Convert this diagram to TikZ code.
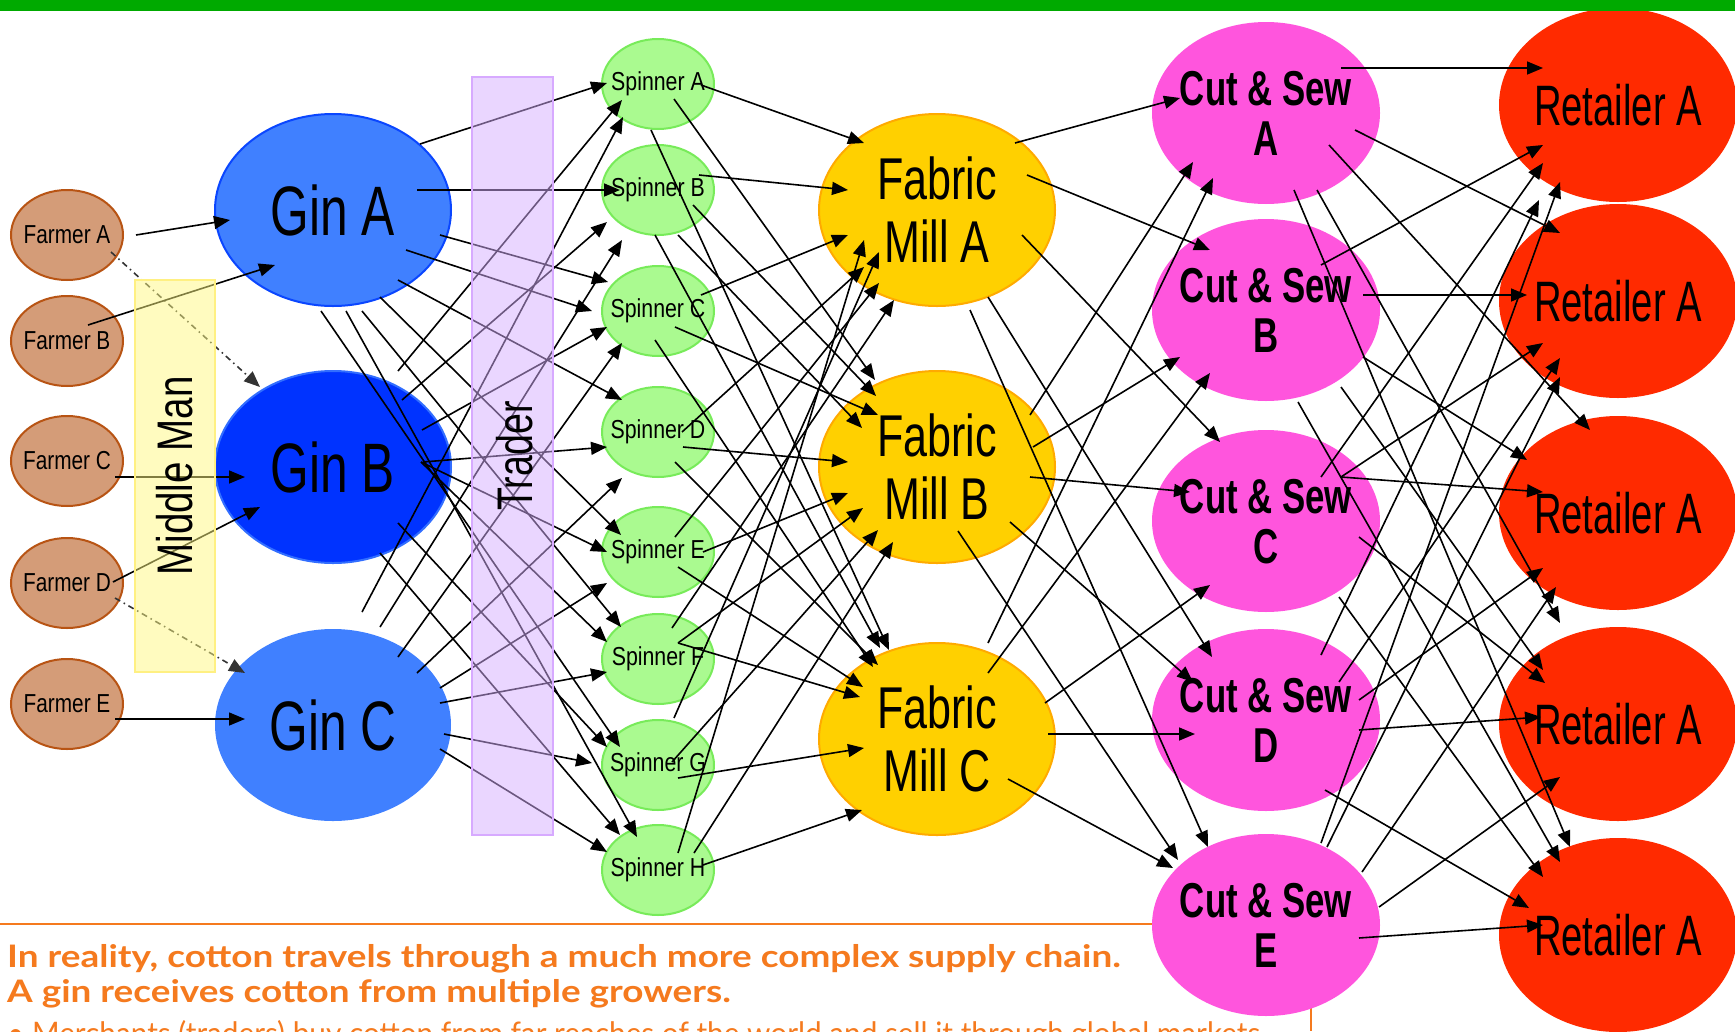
\documentclass[tikz,border=0pt]{standalone}
\usepackage{fontspec}
\usepackage{graphicx}
\setmainfont{Liberation Sans}
\newfontfamily\botfont{Lato}
\usetikzlibrary{shapes.geometric,arrows.meta,calc}

\definecolor{topgreen}{RGB}{0,170,0}
\definecolor{farmfill}{RGB}{212,156,120}
\definecolor{farmline}{RGB}{184,84,20}
\definecolor{ginfill}{RGB}{64,128,255}
\definecolor{ginline}{RGB}{10,70,255}
\definecolor{ginBfill}{RGB}{0,51,255}
\definecolor{ginBline}{RGB}{50,110,255}
\definecolor{mmfill}{RGB}{255,249,129}
\definecolor{mmline}{RGB}{255,240,130}
\definecolor{trfill}{RGB}{215,175,255}
\definecolor{trline}{RGB}{215,170,255}
\definecolor{spinfill}{RGB}{170,250,144}
\definecolor{spinline}{RGB}{120,235,90}
\definecolor{millfill}{RGB}{255,208,0}
\definecolor{millline}{RGB}{255,170,0}
\definecolor{csfill}{RGB}{255,85,221}
\definecolor{retfill}{RGB}{255,42,0}
\definecolor{orangetxt}{RGB}{245,122,30}

\newcommand\sq[3]{{\fontsize{#1}{#1}\selectfont\scalebox{#2}[1]{#3}}}
\newcommand\sqq[5]{{\fontsize{#1}{#2}\selectfont\scalebox{#3}[1]{\begin{tabular}{@{}c@{}}#4\\#5\end{tabular}}}}
\newcommand\link[6]{\draw[arr] ($(#1)+(#2,#3)$) -- ($(#4)+(#5,#6)$);}
\newcommand\linkdd[6]{\draw[arr,dd] ($(#1)+(#2,#3)$) -- ($(#4)+(#5,#6)$);}

\begin{document}
\begin{tikzpicture}[x=1pt,y=-1pt,
  arr/.style={line width=1.6pt,draw=black,-{Triangle[length=16pt,width=13pt]}},
  dd/.style={draw=black!80,dash pattern=on 6pt off 4pt on 1.5pt off 4pt},
  farmer/.style={ellipse,minimum width=112pt,minimum height=90pt,inner sep=0pt,fill=farmfill,draw=farmline,line width=2pt},
  gin/.style={ellipse,minimum width=236pt,minimum height=192pt,inner sep=0pt,fill=ginfill},
  spin/.style={ellipse,minimum width=112pt,minimum height=90pt,inner sep=0pt,fill=spinfill,draw=spinline,line width=2pt},
  mill/.style={ellipse,minimum width=236pt,minimum height=192pt,inner sep=0pt,fill=millfill,draw=millline,line width=2pt},
  cs/.style={ellipse,minimum width=228pt,minimum height=182pt,inner sep=0pt,fill=csfill},
  ret/.style={ellipse,minimum width=238pt,minimum height=194pt,inner sep=0pt,fill=retfill},
  txt/.style={inner sep=0pt,text=black},
  box/.style={rectangle,inner sep=0pt,line width=2pt},
  bottxt/.style={anchor=base west,inner sep=0pt,text=orangetxt}]

\useasboundingbox (0,0) rectangle (1735,1031);
\clip (0,0) rectangle (1735,1031);
\fill[white] (0,0) rectangle (1735,1031);

% bottom frame lines
\draw[orangetxt,line width=2pt] (0,924) -- (1311,924) -- (1311,1031);

% farmers
\node[farmer] (F1) at (67,235) {};
\node[farmer] (F2) at (67,341) {};
\node[farmer] (F3) at (67,461) {};
\node[farmer] (F4) at (67,583) {};
\node[farmer] (F5) at (67,704) {};
% gins
\node[gin,draw=ginline,line width=2pt] (GA) at (333,210) {};
\node[gin,fill=ginBfill,draw=ginBline,line width=2pt] (GB) at (333,467) {};
\node[gin] (GC) at (333,725) {};
% spinners
\node[spin] (SA) at (658,84) {};
\node[spin] (SB) at (658,190) {};
\node[spin] (SC) at (658,311) {};
\node[spin] (SD) at (658,432) {};
\node[spin] (SE) at (658,552) {};
\node[spin] (SF) at (658,659) {};
\node[spin] (SG) at (658,765) {};
\node[spin] (SH) at (658,870) {};
% mills
\node[mill] (MA) at (937,210) {};
\node[mill] (MB) at (937,467) {};
\node[mill] (MC) at (937,739) {};
% cut & sew
\node[cs] (CA) at (1266,113) {};
\node[cs] (CB) at (1266,310) {};
\node[cs] (CC) at (1266,521) {};
\node[cs] (CD) at (1266,720) {};
\node[cs] (CE) at (1266,925) {};
% retailers
\node[ret] (RA) at (1618,105) {};
\node[ret] (RB) at (1618,301) {};
\node[ret] (RC) at (1618,513) {};
\node[ret] (RD) at (1618,724) {};
\node[ret] (RE) at (1618,935) {};

% labels
\node[txt] (F1t) at (F1) {\sq{26}{0.8}{Farmer A}};
\node[txt] (F2t) at (F2) {\sq{26}{0.8}{Farmer B}};
\node[txt] (F3t) at (F3) {\sq{26}{0.8}{Farmer C}};
\node[txt] (F4t) at (F4) {\sq{26}{0.8}{Farmer D}};
\node[txt] (F5t) at (F5) {\sq{26}{0.8}{Farmer E}};
\node[txt] (GAt) at (GA) {\sq{70}{0.71}{Gin A}};
\node[txt] (GBt) at (GB) {\sq{70}{0.71}{Gin B}};
\node[txt] (GCt) at (GC) {\sq{70}{0.71}{Gin C}};
\node[txt] (SAt) at (SA) {\sq{26}{0.82}{Spinner A}};
\node[txt] (SBt) at (SB) {\sq{26}{0.82}{Spinner B}};
\node[txt] (SCt) at (SC) {\sq{26}{0.82}{Spinner C}};
\node[txt] (SDt) at (SD) {\sq{26}{0.82}{Spinner D}};
\node[txt] (SEt) at (SE) {\sq{26}{0.82}{Spinner E}};
\node[txt] (SFt) at (SF) {\sq{26}{0.82}{Spinner F}};
\node[txt] (SGt) at (SG) {\sq{26}{0.82}{Spinner G}};
\node[txt] (SHt) at (SH) {\sq{26}{0.82}{Spinner H}};
\node[txt,yshift=-8pt] (MAt) at (MA) {\sqq{59}{63}{0.73}{Fabric}{Mill A}};
\node[txt,yshift=-8pt] (MBt) at (MB) {\sqq{59}{63}{0.73}{Fabric}{Mill B}};
\node[txt,yshift=-8pt] (MCt) at (MC) {\sqq{59}{63}{0.73}{Fabric}{Mill C}};
\node[txt,yshift=-7pt,font=\bfseries] (CAt) at (CA) {\sqq{49}{50}{0.71}{Cut \& Sew}{A}};
\node[txt,yshift=-7pt,font=\bfseries] (CBt) at (CB) {\sqq{49}{50}{0.71}{Cut \& Sew}{B}};
\node[txt,yshift=-7pt,font=\bfseries] (CCt) at (CC) {\sqq{49}{50}{0.71}{Cut \& Sew}{C}};
\node[txt,yshift=-7pt,font=\bfseries] (CDt) at (CD) {\sqq{49}{50}{0.71}{Cut \& Sew}{D}};
\node[txt,yshift=-7pt,font=\bfseries] (CEt) at (CE) {\sqq{49}{50}{0.71}{Cut \& Sew}{E}};
\node[txt] (RAt) at (RA) {\sq{57}{0.67}{Retailer A}};
\node[txt] (RBt) at (RB) {\sq{57}{0.67}{Retailer A}};
\node[txt] (RCt) at (RC) {\sq{57}{0.67}{Retailer A}};
\node[txt] (RDt) at (RD) {\sq{57}{0.67}{Retailer A}};
\node[txt] (REt) at (RE) {\sq{57}{0.67}{Retailer A}};

% farmers -> gins
\link{F1}{69}{0}{GA}{-103}{10}
\linkdd{F1}{44}{17}{GB}{-73}{-80}
\link{F2}{21}{-16}{GA}{-58}{55}
\link{F3}{48}{16}{GB}{-88}{10}
\link{F4}{46}{-1}{GB}{-73}{40}
\linkdd{F4}{48}{15}{GC}{-88}{-52}
\link{F5}{48}{15}{GC}{-88}{-6}

% gins -> spinners
\link{GA}{87}{-66}{SA}{-51}{-1}
\link{GA}{84}{-20}{SB}{-38}{0}
\link{GA}{107}{25}{SC}{-50}{-29}
\link{GA}{73}{40}{SC}{-66}{0}
\link{GA}{65}{70}{SD}{-36}{-32}
\link{GA}{47}{87}{SE}{-37}{-17}
\link{GA}{29}{101}{SF}{-37}{-32}
\link{GA}{13}{101}{SH}{-21}{-33}
\link{GA}{-12}{101}{SG}{-38}{-18}
\link{GB}{65}{-96}{SA}{-36}{16}
\link{GB}{69}{-67}{SB}{-51}{32}
\link{GB}{89}{-37}{SC}{-51}{16}
\link{GB}{90}{-5}{SD}{-51}{15}
\link{GB}{88}{-5}{SE}{-51}{0}
\link{GB}{88}{-5}{SF}{-51}{-17}
\link{GB}{65}{56}{SG}{-51}{-18}
\link{GB}{47}{86}{SH}{-38}{-35}
\link{GC}{29}{-113}{SA}{-35}{33}
\link{GC}{47}{-98}{SB}{-36}{50}
\link{GC}{65}{-68}{SC}{-36}{32}
\link{GC}{84}{-52}{SD}{-36}{46}
\link{GC}{107}{-37}{SE}{-51}{31}
\link{GC}{107}{-22}{SF}{-51}{13}
\link{GC}{111}{9}{SG}{-66}{-2}
\link{GC}{107}{24}{SH}{-51}{-18}

% spinners -> mills
\link{SA}{43}{1}{MA}{-73}{-67}
\link{SA}{16}{15}{MB}{-62}{-87}
\link{SA}{-7}{46}{MC}{-48}{-89}
\link{SB}{41}{-15}{MA}{-89}{-20}
\link{SB}{35}{15}{MB}{-61}{-71}
\link{SB}{20}{45}{MB}{-75}{-39}
\link{SB}{-3}{45}{MC}{-57}{-91}
\link{SC}{43}{-16}{MA}{-89}{25}
\link{SC}{17}{16}{MB}{-59}{-52}
\link{SC}{-3}{29}{MC}{-64}{-72}
\link{SD}{24}{0}{MA}{-73}{57}
\link{SD}{25}{15}{MB}{-89}{-5}
\link{SD}{17}{30}{MC}{-59}{-74}
\link{SE}{17}{-15}{MA}{-58}{73}
\link{SE}{45}{0}{MB}{-89}{26}
\link{SE}{20}{15}{MC}{-74}{-52}
\link{SF}{14}{-31}{MA}{-43}{90}
\link{SF}{20}{-16}{MB}{-74}{41}
\link{SF}{20}{-16}{MC}{-77}{-42}
\link{SG}{16}{-47}{MA}{-58}{42}
\link{SG}{14}{-3}{MB}{-59}{63}
\link{SG}{20}{13}{MC}{-73}{9}
\link{SH}{20}{-17}{MA}{-73}{30}
\link{SH}{36}{-17}{MB}{-44}{75}
\link{SH}{45}{-5}{MC}{-75}{71}

% mills -> cut & sew
\link{MA}{78}{-67}{CA}{-86}{-15}
\link{MA}{90}{-35}{CB}{-56}{-60}
\link{MA}{85}{25}{CC}{-46}{-79}
\link{MA}{51}{87}{CD}{-54}{-63}
\link{MA}{33}{100}{CE}{-58}{-78}
\link{MB}{93}{-52}{CA}{-73}{49}
\link{MB}{96}{-20}{CB}{-86}{47}
\link{MB}{93}{10}{CC}{-76}{-29}
\link{MB}{73}{55}{CD}{-73}{-38}
\link{MB}{21}{64}{CE}{-88}{-65}
\link{MC}{51}{-96}{CA}{-53}{65}
\link{MC}{51}{-66}{CB}{-56}{63}
\link{MC}{108}{-36}{CC}{-56}{64}
\link{MC}{111}{-5}{CD}{-71}{14}
\link{MC}{71}{40}{CE}{-93}{-57}

% cut & sew -> retailers
\link{CA}{75}{-45}{RA}{-75}{-37}
\link{CA}{89}{17}{RB}{-58}{-68}
\link{CA}{63}{32}{RC}{-28}{-83}
\link{CA}{51}{77}{RD}{-58}{-101}
\link{CA}{28}{77}{RE}{-48}{-88}
\link{CB}{55}{-45}{RA}{-75}{40}
\link{CB}{97}{-15}{RB}{-91}{-6}
\link{CB}{97}{47}{RC}{-91}{-53}
\link{CB}{75}{77}{RD}{-75}{-54}
\link{CB}{32}{92}{RE}{-58}{-73}
\link{CC}{55}{-44}{RA}{-75}{58}
\link{CC}{75}{-44}{RB}{-75}{42}
\link{CC}{75}{-44}{RC}{-75}{-21}
\link{CC}{93}{16}{RD}{-73}{-41}
\link{CC}{73}{76}{RE}{-75}{-58}
\link{CD}{55}{-65}{RA}{-79}{95}
\link{CD}{73}{-38}{RB}{-58}{57}
\link{CD}{93}{-20}{RC}{-75}{55}
\link{CD}{93}{10}{RD}{-77}{-7}
\link{CD}{59}{70}{RE}{-89}{-27}
\link{CE}{55}{-82}{RA}{-58}{77}
\link{CE}{61}{-78}{RB}{-58}{76}
\link{CE}{96}{-53}{RC}{-62}{74}
\link{CE}{113}{-18}{RD}{-58}{53}
\link{CE}{93}{13}{RE}{-75}{-10}

% translucent boxes over the connectors
\node[box,minimum width=80pt,minimum height=392pt,fill=mmfill,fill opacity=0.5,draw=mmline] (MM) at (175,476) {};
\node[box,minimum width=81pt,minimum height=758pt,fill=trfill,fill opacity=0.5,draw=trline] (TR) at (512.5,456) {};
\node[txt,rotate=90] (MMt) at (MM) {\sq{50}{0.77}{Middle Man}};
\node[txt,rotate=90] (TRt) at (515,456) {\sq{50}{0.75}{Trader}};

% top bar
\fill[topgreen] (0,0) rectangle (1735,11);

% bottom text
\node[bottxt] (T1) at (7,967) {\scalebox{1.19}[1]{\botfont\bfseries\fontsize{31}{31}\selectfont In reality, cotton travels through a much more complex supply chain.}};
\node[bottxt] (T2) at (7,1002) {\scalebox{1.19}[1]{\botfont\bfseries\fontsize{31}{31}\selectfont A gin receives cotton from multiple growers.}};
\node[bottxt] (T3) at (7,1044) {\scalebox{0.96}[1]{\botfont\fontsize{31}{31}\selectfont\textbullet\ Merchants (traders) buy cotton from far reaches of the world and sell it through global markets.}};
\end{tikzpicture}
\end{document}
